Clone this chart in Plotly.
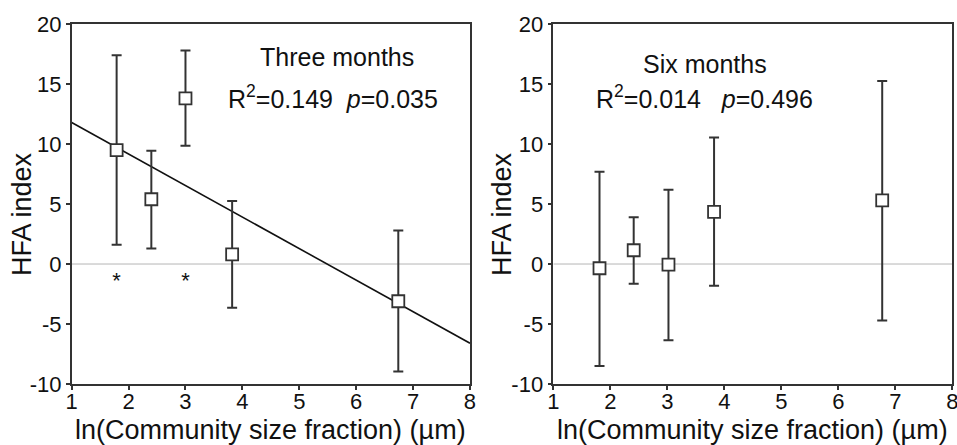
import plotly.graph_objects as go

# ---- data ----
x3 = [1.79, 2.40, 3.00, 3.82, 6.74]
y3 = [9.5, 5.4, 13.8, 0.8, -3.1]
y3_hi = [17.4, 9.45, 17.8, 5.25, 2.8]
y3_lo = [1.6, 1.3, 9.85, -3.65, -8.95]

x6 = [1.81, 2.41, 3.02, 3.82, 6.77]
y6 = [-0.35, 1.15, -0.05, 4.35, 5.3]
y6_hi = [7.7, 3.9, 6.2, 10.55, 15.25]
y6_lo = [-8.5, -1.65, -6.35, -1.8, -4.7]

fit_x = [1, 8]
fit_y = [11.8, -6.6]

sig_x = [1.79, 3.0]
sig_y = [-1.5, -1.5]

xticks = [1, 2, 3, 4, 5, 6, 7, 8]
yticks = [-10, -5, 0, 5, 10, 15, 20]
yticklabels = ["-10", "-5", "0", "5", "10", "15", "20"]

FONT = "Arial, Liberation Sans, sans-serif"
DARK = "#333333"
TXT = "#111111"

fig = go.Figure()

def add_panel(xs, ys, hi, lo, xa, ya):
    fig.add_trace(go.Scatter(
        x=xs, y=ys, mode="markers", xaxis=xa, yaxis=ya,
        marker=dict(symbol="square", size=12, color="white",
                    line=dict(color=DARK, width=1.8)),
        error_y=dict(type="data", symmetric=False,
                     array=[h - v for h, v in zip(hi, ys)],
                     arrayminus=[v - l for l, v in zip(lo, ys)],
                     color=DARK, thickness=2, width=5),
        showlegend=False))

# zero lines
for xa, ya in [("x", "y"), ("x2", "y2")]:
    fig.add_trace(go.Scatter(x=[1, 8], y=[0, 0], mode="lines", xaxis=xa, yaxis=ya,
                             line=dict(color="#b5b5b5", width=1), showlegend=False))

fig.add_trace(go.Scatter(x=fit_x, y=fit_y, mode="lines", xaxis="x", yaxis="y",
                         line=dict(color="#111111", width=1.6), showlegend=False))

add_panel(x3, y3, y3_hi, y3_lo, "x", "y")
add_panel(x6, y6, y6_hi, y6_lo, "x2", "y2")

fig.add_trace(go.Scatter(x=sig_x, y=sig_y, mode="text", text=["*"] * len(sig_x),
                         textfont=dict(family=FONT, size=22, color=TXT),
                         xaxis="x", yaxis="y", showlegend=False))

axis_common = dict(
    range=[1, 8], tickvals=xticks, ticks="outside", ticklen=4, tickwidth=1.5,
    tickcolor=DARK, showline=True, linecolor=DARK, linewidth=1.6, mirror=True,
    showgrid=False, zeroline=False, ticklabelstandoff=-7, ticklabeloverflow="allow",
    tickfont=dict(family=FONT, size=22, color=TXT),
    automargin=False,
)
yaxis_common = dict(
    range=[-10, 20], tickvals=yticks, ticktext=yticklabels, ticks="outside", ticklen=4,
    tickwidth=1.5, tickcolor=DARK, showline=True, linecolor=DARK, linewidth=1.6,
    mirror=True, showgrid=False, zeroline=False,
    tickfont=dict(family=FONT, size=22, color=TXT),
    automargin=False,
)

XT = "ln(Community size fraction) (µm)"
YT = "HFA index"
ann_font = dict(family=FONT, size=25, color=TXT)
title_font = dict(family=FONT, size=27, color=TXT)

fig.update_layout(
    width=957, height=445,
    margin=dict(l=0, r=0, t=0, b=0),
    paper_bgcolor="white", plot_bgcolor="white",
    xaxis=dict(domain=[0.0749, 0.4911], anchor="y", **axis_common),
    yaxis=dict(domain=[0.137, 0.946], anchor="x", **yaxis_common),
    xaxis2=dict(domain=[0.5782, 0.9951], anchor="y2", **axis_common),
    yaxis2=dict(domain=[0.137, 0.946], anchor="x2", **yaxis_common),
    annotations=[
        dict(x=5.67, y=17.25, xref="x", yref="y", text="Three months", showarrow=False, font=ann_font),
        dict(x=5.6, y=13.9, xref="x", yref="y", text="R<sup>2</sup>=0.149  <i>p</i>=0.035",
             showarrow=False, font=ann_font),
        dict(x=3.66, y=16.7, xref="x2", yref="y2", text="Six months", showarrow=False, font=ann_font),
        dict(x=3.66, y=13.94, xref="x2", yref="y2", text="R<sup>2</sup>=0.014   <i>p</i>=0.496",
             showarrow=False, font=ann_font),
        # axis titles
        dict(x=0.283, y=0.0337, xref="paper", yref="paper", text=XT, showarrow=False,
             font=title_font, xanchor="center", yanchor="middle"),
        dict(x=0.7866, y=0.0337, xref="paper", yref="paper", text=XT, showarrow=False,
             font=title_font, xanchor="center", yanchor="middle"),
        dict(x=0.023, y=0.519, xref="paper", yref="paper", text=YT, showarrow=False,
             font=title_font, textangle=-90, xanchor="center", yanchor="middle"),
        dict(x=0.5246, y=0.519, xref="paper", yref="paper", text=YT, showarrow=False,
             font=title_font, textangle=-90, xanchor="center", yanchor="middle"),
    ],
)

fig.write_html("out.html")
